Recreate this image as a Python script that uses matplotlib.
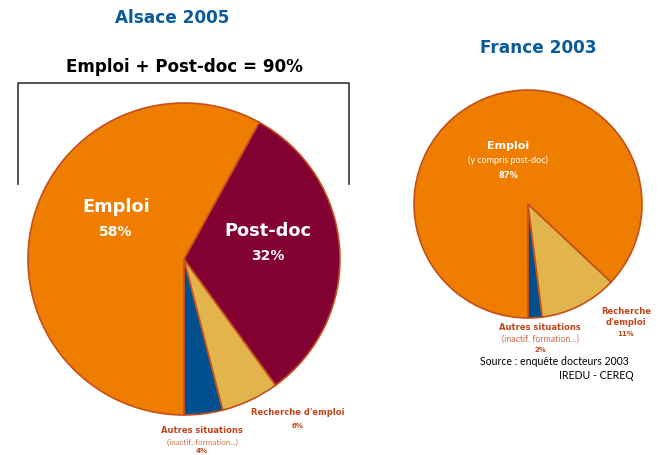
import matplotlib.pyplot as plt

W, H = 662, 456

# data
alsace_labels = ['Autres situations', "Recherche d'emploi", 'Post-doc', 'Emploi']
alsace_vals = [4, 6, 32, 58]
france_labels = ['Autres situations', "Recherche d'emploi", 'Emploi']
france_vals = [2, 11, 87]

blue = '#00508f'
gold = '#e2b44c'
maroon = '#820032'
orange = '#ef7d00'
edge = '#c4501c'
title_blue = '#0a5a9c'
lab_red = '#c0451a'

BF = ['DejaVu Sans']          # bold labels (wide, geometric look)
RF = ['Lato', 'DejaVu Sans']  # regular small text

fig = plt.figure(figsize=(W / 100, H / 100), dpi=100)
ax = fig.add_axes([0, 0, 1, 1])


def Y(y):
    return H - y


def bold(x, y, s, size, color, **kw):
    ax.text(x, Y(y), s, color=color, fontsize=size, fontweight='bold', family=BF,
            ha=kw.pop('ha', 'center'), va='center', **kw)


def reg(x, y, s, size, color, **kw):
    ax.text(x, Y(y), s, color=color, fontsize=size, family=RF,
            ha=kw.pop('ha', 'center'), va='center', **kw)


ax.pie(alsace_vals, colors=[blue, gold, maroon, orange], startangle=-90,
       counterclock=True, center=(184, Y(260)), radius=156,
       wedgeprops=dict(edgecolor=edge, linewidth=1.2))
ax.pie(france_vals, colors=[blue, gold, orange], startangle=-90,
       counterclock=True, center=(528, Y(205)), radius=114,
       wedgeprops=dict(edgecolor=edge, linewidth=1.2))

ax.set_xlim(0, W)
ax.set_ylim(0, H)
ax.set_aspect('equal')
ax.axis('off')

# titles
bold(172, 18, 'Alsace 2005', 12.2, title_blue)
bold(538, 48, 'France 2003', 12.2, title_blue)
bold(184, 67, 'Emploi + Post-doc = 90%', 12.1, 'black')

# bracket
ax.plot([18, 18, 349, 349], [Y(185), Y(84), Y(84), Y(185)], color='#333333', lw=1.2)

# left pie labels
bold(116, 207, alsace_labels[3], 12.8, 'white')
bold(116, 232, '%d%%' % alsace_vals[3], 10, 'white')
bold(268, 231, alsace_labels[2], 12.8, 'white')
bold(268, 256, '%d%%' % alsace_vals[2], 10, 'white')
bold(298, 413, alsace_labels[1], 6, lab_red)
bold(298, 426, '%d%%' % alsace_vals[1], 5, lab_red)
bold(202, 431, alsace_labels[0], 6, lab_red)
reg(202, 442, '(inactif, formation...)', 5.8, '#d0704a')
bold(202, 451, '%d%%' % alsace_vals[0], 5, lab_red)

# right pie labels
bold(508, 146, france_labels[2], 8, 'white')
reg(508, 160, '(y compris post-doc)', 6.5, 'white')
bold(508, 175, '%d%%' % france_vals[2], 6, 'white')
bold(626, 317, "Recherche\nd'emploi", 6, lab_red, linespacing=1.2)
bold(626, 334, '%d%%' % france_vals[1], 5, lab_red)
bold(540, 327, france_labels[0], 6, lab_red)
reg(540, 339, '(inactif, formation...)', 6.3, '#d0704a')
bold(540, 350, '%d%%' % france_vals[0], 5, lab_red)

reg(554, 362, 'Source : enquête docteurs 2003', 7.6, 'black')
reg(634, 376, 'IREDU - CEREQ', 7.6, 'black', ha='right')

fig.savefig('out.png', dpi=100)
